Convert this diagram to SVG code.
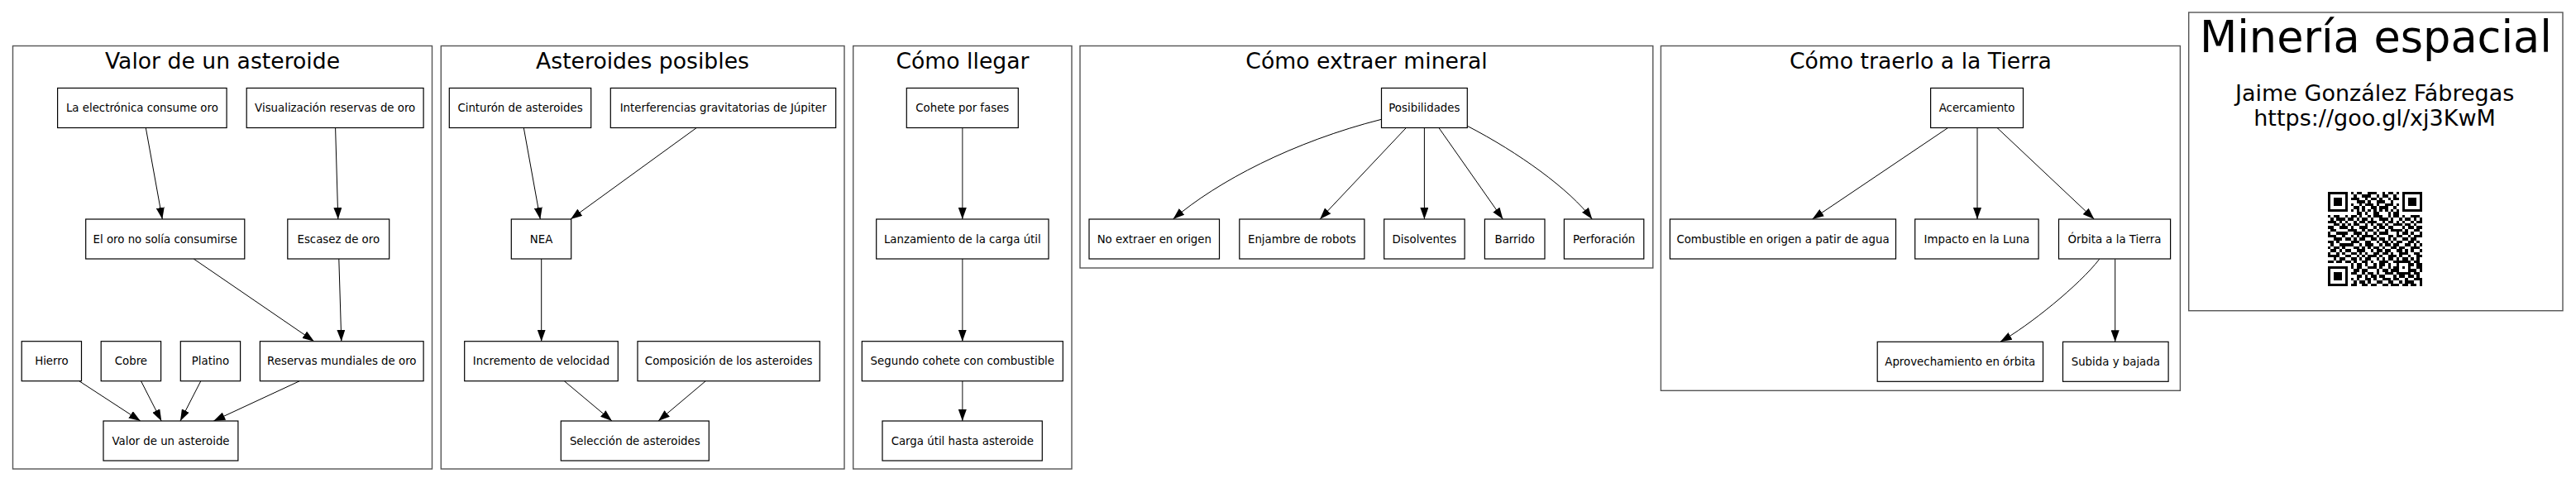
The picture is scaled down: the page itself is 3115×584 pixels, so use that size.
<svg xmlns="http://www.w3.org/2000/svg" width="3115" height="584" viewBox="0 0 3115 584">
<style>
.cl{fill:none;stroke:#555555;stroke-width:1.4}
.nd rect{fill:#ffffff;stroke:#000000;stroke-width:1.2}
.nd text,.lb{font-family:"DejaVu Sans",sans-serif;font-size:13.33px;fill:#000000;text-anchor:middle}
.tt{font-family:"DejaVu Sans",sans-serif;font-size:26.67px;fill:#000000;text-anchor:middle}
.e{fill:none;stroke:#000000;stroke-width:1;marker-end:url(#ah)}
.eg{fill:none;stroke:#555555;stroke-width:1.4;marker-end:url(#ah)}
</style>
<defs>
<marker id="ah" viewBox="0 0 14 10" refX="14" refY="5" markerUnits="userSpaceOnUse" markerWidth="14" markerHeight="10" orient="auto">
<path d="M0,0 L14,5 L0,10 z" fill="#000000"/>
</marker>
</defs>
<rect width="3115" height="584" fill="#ffffff"/>

<g id="clusters">
<g id="c1"><rect class="cl" x="15.5" y="55.5" width="507" height="511.5"/><text class="tt" x="269" y="83">Valor de un asteroide</text></g>
<g id="c2"><rect class="cl" x="533.3" y="55.5" width="487.7" height="511.5"/><text class="tt" x="777" y="83">Asteroides posibles</text></g>
<g id="c3"><rect class="cl" x="1031.7" y="55.5" width="264.3" height="511.5"/><text class="tt" x="1164" y="83">Cómo llegar</text></g>
<g id="c4"><rect class="cl" x="1306" y="55.5" width="692.8" height="268.5"/><text class="tt" x="1652.5" y="83">Cómo extraer mineral</text></g>
<g id="c5"><rect class="cl" x="2008.4" y="55.5" width="628" height="416.8"/><text class="tt" x="2322.4" y="83">Cómo traerlo a la Tierra</text></g>
</g>

<g id="connectors">
<line class="e" x1="176.3" y1="154.5" x2="196.3" y2="265"/>
<line class="e" x1="405.6" y1="154.5" x2="408.8" y2="265"/>
<line class="e" x1="234.2" y1="313" x2="379.8" y2="412.7"/>
<line class="e" x1="409.8" y1="313" x2="412.8" y2="412.7"/>
<line class="e" x1="95.7" y1="460.7" x2="169.8" y2="509"/>
<line class="e" x1="170.5" y1="460.7" x2="195.2" y2="509"/>
<line class="e" x1="242.8" y1="460.7" x2="218" y2="509"/>
<line class="e" x1="362.3" y1="460.7" x2="258.3" y2="509"/>

<line class="e" x1="633.3" y1="154.5" x2="653.3" y2="265"/>
<line class="e" x1="842.3" y1="154.5" x2="690" y2="265"/>
<line class="e" x1="654.7" y1="313" x2="654.7" y2="412.7"/>
<line class="e" x1="682.3" y1="460.7" x2="740" y2="509"/>
<line class="e" x1="853.3" y1="460.7" x2="796" y2="509"/>

<line class="eg" x1="1163.8" y1="154.5" x2="1163.8" y2="265"/>
<line class="eg" x1="1163.8" y1="313" x2="1163.8" y2="412.7"/>
<line class="eg" x1="1163.8" y1="460.7" x2="1163.8" y2="509"/>

<path class="e" d="M1670.5,144.3 C1563.8,171.3 1471.7,219.5 1418.5,265"/>
<line class="e" x1="1700.4" y1="154.5" x2="1596.1" y2="265"/>
<line class="e" x1="1722.4" y1="154.5" x2="1722.4" y2="265"/>
<line class="e" x1="1739.9" y1="154.5" x2="1817.4" y2="265"/>
<path class="e" d="M1774.3,152.3 C1836.5,184.4 1898.3,229 1925.3,265"/>

<line class="e" x1="2355.6" y1="154.5" x2="2191.5" y2="265"/>
<line class="e" x1="2391" y1="154.5" x2="2391" y2="265"/>
<line class="e" x1="2415" y1="154.5" x2="2532.4" y2="265"/>
<path class="e" d="M2538.7,313.3 C2514.3,344.9 2453.6,393.7 2418.8,413.3"/>
<line class="e" x1="2557.7" y1="313.3" x2="2557.7" y2="413.3"/>
</g>

<g id="nodes" class="nd">
<g id="n_electronica"><rect x="69.6" y="106.5" width="204.5" height="48"/><text x="171.9" y="135.2">La electrónica consume oro</text></g>
<g id="n_visualizacion"><rect x="298.2" y="106.5" width="213.9" height="48"/><text x="405.2" y="135.2">Visualización reservas de oro</text></g>
<g id="n_oro"><rect x="103.7" y="265" width="192.1" height="48"/><text x="199.8" y="293.7">El oro no solía consumirse</text></g>
<g id="n_escasez"><rect x="347.8" y="265" width="122.9" height="48"/><text x="409.3" y="293.7">Escasez de oro</text></g>
<g id="n_hierro"><rect x="26.2" y="412.7" width="72.3" height="48"/><text x="62.4" y="441.4">Hierro</text></g>
<g id="n_cobre"><rect x="122.2" y="412.7" width="72.4" height="48"/><text x="158.4" y="441.4">Cobre</text></g>
<g id="n_platino"><rect x="218.3" y="412.7" width="72.3" height="48"/><text x="254.5" y="441.4">Platino</text></g>
<g id="n_reservas"><rect x="314.4" y="412.7" width="197.7" height="48"/><text x="413.3" y="441.4">Reservas mundiales de oro</text></g>
<g id="n_valor"><rect x="125" y="509" width="162.9" height="48"/><text x="206.5" y="537.7">Valor de un asteroide</text></g>

<g id="n_cinturon"><rect x="543.3" y="106.5" width="171.4" height="48"/><text x="629" y="135.2">Cinturón de asteroides</text></g>
<g id="n_interferencias"><rect x="738.3" y="106.5" width="272.4" height="48"/><text x="874.5" y="135.2">Interferencias gravitatorias de Júpiter</text></g>
<g id="n_nea"><rect x="618.3" y="265" width="72.4" height="48"/><text x="654.5" y="293.7">NEA</text></g>
<g id="n_incremento"><rect x="561.7" y="412.7" width="185.6" height="48"/><text x="654.5" y="441.4">Incremento de velocidad</text></g>
<g id="n_composicion"><rect x="771" y="412.7" width="220.3" height="48"/><text x="881.2" y="441.4">Composición de los asteroides</text></g>
<g id="n_seleccion"><rect x="678.3" y="509" width="179" height="48"/><text x="767.8" y="537.7">Selección de asteroides</text></g>

<g id="n_cohete"><rect x="1096.3" y="106.5" width="135" height="48"/><text x="1163.8" y="135.2">Cohete por fases</text></g>
<g id="n_lanzamiento"><rect x="1059.7" y="265" width="208.3" height="48"/><text x="1163.8" y="293.7">Lanzamiento de la carga útil</text></g>
<g id="n_segundo"><rect x="1042.3" y="412.7" width="243" height="48"/><text x="1163.8" y="441.4">Segundo cohete con combustible</text></g>
<g id="n_carga"><rect x="1067" y="509" width="193.3" height="48"/><text x="1163.8" y="537.7">Carga útil hasta asteroide</text></g>

<g id="n_posibilidades"><rect x="1670.5" y="106.5" width="103.8" height="48"/><text x="1722.4" y="135.2">Posibilidades</text></g>
<g id="n_noextraer"><rect x="1317" y="265" width="157.5" height="48"/><text x="1395.8" y="293.7">No extraer en origen</text></g>
<g id="n_enjambre"><rect x="1498.8" y="265" width="151.1" height="48"/><text x="1574.4" y="293.7">Enjambre de robots</text></g>
<g id="n_disolventes"><rect x="1673.7" y="265" width="97.4" height="48"/><text x="1722.4" y="293.7">Disolventes</text></g>
<g id="n_barrido"><rect x="1795.4" y="265" width="72.6" height="48"/><text x="1831.7" y="293.7">Barrido</text></g>
<g id="n_perforacion"><rect x="1891.4" y="265" width="96.4" height="48"/><text x="1939.6" y="293.7">Perforación</text></g>

<g id="n_acercamiento"><rect x="2334.6" y="106.5" width="111.9" height="48"/><text x="2390.6" y="135.2">Acercamiento</text></g>
<g id="n_combustible"><rect x="2019.4" y="265" width="273.1" height="48"/><text x="2156" y="293.7">Combustible en origen a patir de agua</text></g>
<g id="n_impacto"><rect x="2315.7" y="265" width="149.4" height="48"/><text x="2390.4" y="293.7">Impacto en la Luna</text></g>
<g id="n_orbita"><rect x="2489.5" y="265" width="135.1" height="48"/><text x="2557" y="293.7">Órbita a la Tierra</text></g>
<g id="n_aprovechamiento"><rect x="2270.2" y="413.3" width="200.3" height="48"/><text x="2370.3" y="442">Aprovechamiento en órbita</text></g>
<g id="n_subida"><rect x="2494.5" y="413.3" width="127.6" height="48"/><text x="2558.3" y="442">Subida y bajada</text></g>
</g>

<g id="n_titulo">
<rect class="cl" x="2646.7" y="15" width="452.3" height="360.7"/>
<text x="2872.9" y="63.3" style="font-family:'DejaVu Sans',sans-serif;font-size:52.5px;text-anchor:middle">Minería espacial</text>
<text x="2871.7" y="121.7" style="font-family:'DejaVu Sans',sans-serif;font-size:27px;text-anchor:middle">Jaime González Fábregas</text>
<text x="2871.5" y="151.7" style="font-family:'DejaVu Sans',sans-serif;font-size:27px;text-anchor:middle">https://goo.gl/xj3KwM</text>
<g transform="translate(2815,232) scale(3.455)" shape-rendering="crispEdges">
<path fill="#000000" d="M0 0h7v1h-7zM8 0h1v1h-1zM10 0h2v1h-2zM14 0h3v1h-3zM19 0h1v1h-1zM21 0h2v1h-2zM24 0h1v1h-1zM26 0h7v1h-7z
M0 1h1v1h-1zM6 1h1v1h-1zM9 1h1v1h-1zM12 1h3v1h-3zM17 1h1v1h-1zM19 1h2v1h-2zM23 1h1v1h-1zM26 1h1v1h-1zM32 1h1v1h-1z
M0 2h1v1h-1zM2 2h3v1h-3zM6 2h1v1h-1zM8 2h3v1h-3zM13 2h1v1h-1zM15 2h2v1h-2zM18 2h1v1h-1zM21 2h1v1h-1zM23 2h2v1h-2zM26 2h1v1h-1zM28 2h3v1h-3zM32 2h1v1h-1z
M0 3h1v1h-1zM2 3h3v1h-3zM6 3h1v1h-1zM10 3h3v1h-3zM14 3h1v1h-1zM17 3h3v1h-3zM22 3h1v1h-1zM26 3h1v1h-1zM28 3h3v1h-3zM32 3h1v1h-1z
M0 4h1v1h-1zM2 4h3v1h-3zM6 4h1v1h-1zM8 4h1v1h-1zM11 4h1v1h-1zM13 4h3v1h-3zM17 4h1v1h-1zM20 4h3v1h-3zM24 4h1v1h-1zM26 4h1v1h-1zM28 4h3v1h-3zM32 4h1v1h-1z
M0 5h1v1h-1zM6 5h1v1h-1zM9 5h2v1h-2zM12 5h1v1h-1zM15 5h2v1h-2zM18 5h3v1h-3zM23 5h1v1h-1zM26 5h1v1h-1zM32 5h1v1h-1z
M0 6h7v1h-7zM8 6h1v1h-1zM10 6h1v1h-1zM12 6h1v1h-1zM14 6h1v1h-1zM16 6h1v1h-1zM18 6h1v1h-1zM20 6h1v1h-1zM22 6h1v1h-1zM24 6h1v1h-1zM26 6h7v1h-7z
M10 7h2v1h-2zM13 7h1v1h-1zM16 7h2v1h-2zM21 7h1v1h-1zM23 7h2v1h-2z
M0 8h1v1h-1zM2 8h2v1h-2zM6 8h1v1h-1zM8 8h2v1h-2zM11 8h1v1h-1zM14 8h1v1h-1zM16 8h3v1h-3zM21 8h1v1h-1zM23 8h2v1h-2zM26 8h1v1h-1zM29 8h3v1h-3z
M1 9h1v1h-1zM3 9h3v1h-3zM7 9h2v1h-2zM10 9h1v1h-1zM12 9h2v1h-2zM15 9h1v1h-1zM18 9h3v1h-3zM22 9h1v1h-1zM25 9h1v1h-1zM27 9h2v1h-2zM30 9h1v1h-1zM32 9h1v1h-1z
M0 10h3v1h-3zM4 10h1v1h-1zM6 10h1v1h-1zM9 10h1v1h-1zM11 10h2v1h-2zM14 10h3v1h-3zM19 10h1v1h-1zM21 10h2v1h-2zM24 10h1v1h-1zM26 10h1v1h-1zM29 10h1v1h-1zM31 10h2v1h-2z
M2 11h2v1h-2zM5 11h1v1h-1zM7 11h1v1h-1zM9 11h2v1h-2zM13 11h1v1h-1zM15 11h1v1h-1zM17 11h2v1h-2zM20 11h1v1h-1zM23 11h3v1h-3zM27 11h2v1h-2zM30 11h1v1h-1z
M0 12h2v1h-2zM4 12h3v1h-3zM8 12h1v1h-1zM11 12h3v1h-3zM16 12h1v1h-1zM18 12h2v1h-2zM21 12h2v1h-2zM26 12h1v1h-1zM28 12h2v1h-2zM31 12h2v1h-2z
M1 13h2v1h-2zM7 13h3v1h-3zM12 13h1v1h-1zM14 13h2v1h-2zM17 13h1v1h-1zM20 13h1v1h-1zM22 13h4v1h-4zM27 13h1v1h-1zM30 13h2v1h-2z
M0 14h1v1h-1zM3 14h4v1h-4zM9 14h3v1h-3zM13 14h1v1h-1zM16 14h1v1h-1zM18 14h3v1h-3zM24 14h1v1h-1zM26 14h2v1h-2zM29 14h1v1h-1zM32 14h1v1h-1z
M0 15h3v1h-3zM5 15h1v1h-1zM8 15h1v1h-1zM10 15h1v1h-1zM12 15h4v1h-4zM17 15h1v1h-1zM21 15h2v1h-2zM24 15h2v1h-2zM28 15h1v1h-1zM30 15h3v1h-3z
M2 16h3v1h-3zM6 16h2v1h-2zM9 16h1v1h-1zM11 16h2v1h-2zM15 16h2v1h-2zM18 16h2v1h-2zM21 16h1v1h-1zM23 16h1v1h-1zM26 16h2v1h-2zM29 16h2v1h-2z
M0 17h2v1h-2zM3 17h1v1h-1zM8 17h3v1h-3zM13 17h2v1h-2zM17 17h1v1h-1zM19 17h2v1h-2zM22 17h1v1h-1zM24 17h2v1h-2zM28 17h2v1h-2zM31 17h1v1h-1z
M1 18h1v1h-1zM4 18h5v1h-5zM11 18h1v1h-1zM13 18h3v1h-3zM18 18h1v1h-1zM20 18h2v1h-2zM23 18h2v1h-2zM27 18h2v1h-2zM30 18h1v1h-1zM32 18h1v1h-1z
M0 19h1v1h-1zM2 19h2v1h-2zM5 19h1v1h-1zM9 19h2v1h-2zM12 19h1v1h-1zM14 19h1v1h-1zM16 19h2v1h-2zM19 19h1v1h-1zM22 19h2v1h-2zM25 19h2v1h-2zM29 19h3v1h-3z
M1 20h2v1h-2zM4 20h1v1h-1zM6 20h2v1h-2zM10 20h3v1h-3zM15 20h1v1h-1zM17 20h2v1h-2zM20 20h2v1h-2zM24 20h2v1h-2zM27 20h1v1h-1zM29 20h1v1h-1zM32 20h1v1h-1z
M0 21h1v1h-1zM3 21h1v1h-1zM5 21h1v1h-1zM8 21h2v1h-2zM11 21h1v1h-1zM13 21h1v1h-1zM16 21h2v1h-2zM19 21h2v1h-2zM22 21h1v1h-1zM25 21h3v1h-3zM30 21h2v1h-2z
M0 22h4v1h-4zM6 22h2v1h-2zM10 22h1v1h-1zM12 22h1v1h-1zM14 22h3v1h-3zM18 22h1v1h-1zM21 22h3v1h-3zM25 22h1v1h-1zM28 22h1v1h-1zM31 22h2v1h-2z
M2 23h1v1h-1zM4 23h2v1h-2zM8 23h2v1h-2zM11 23h1v1h-1zM13 23h2v1h-2zM17 23h1v1h-1zM19 23h1v1h-1zM21 23h2v1h-2zM24 23h1v1h-1zM26 23h2v1h-2zM29 23h1v1h-1zM31 23h1v1h-1z
M0 24h2v1h-2zM3 24h2v1h-2zM6 24h2v1h-2zM9 24h1v1h-1zM12 24h2v1h-2zM15 24h1v1h-1zM18 24h3v1h-3zM23 24h6v1h-6zM30 24h2v1h-2z
M8 25h1v1h-1zM10 25h2v1h-2zM13 25h1v1h-1zM16 25h1v1h-1zM18 25h2v1h-2zM21 25h1v1h-1zM24 25h1v1h-1zM28 25h2v1h-2zM31 25h2v1h-2z
M0 26h7v1h-7zM8 26h1v1h-1zM10 26h2v1h-2zM14 26h3v1h-3zM18 26h1v1h-1zM21 26h1v1h-1zM23 26h2v1h-2zM26 26h1v1h-1zM28 26h1v1h-1zM31 26h2v1h-2z
M0 27h1v1h-1zM6 27h1v1h-1zM9 27h2v1h-2zM12 27h2v1h-2zM17 27h1v1h-1zM19 27h2v1h-2zM22 27h3v1h-3zM28 27h3v1h-3zM32 27h1v1h-1z
M0 28h1v1h-1zM2 28h3v1h-3zM6 28h1v1h-1zM8 28h2v1h-2zM12 28h1v1h-1zM14 28h2v1h-2zM17 28h1v1h-1zM20 28h3v1h-3zM24 28h5v1h-5zM30 28h2v1h-2z
M0 29h1v1h-1zM2 29h3v1h-3zM6 29h1v1h-1zM10 29h2v1h-2zM13 29h1v1h-1zM15 29h2v1h-2zM18 29h2v1h-2zM23 29h1v1h-1zM25 29h2v1h-2zM28 29h2v1h-2zM31 29h1v1h-1z
M0 30h1v1h-1zM2 30h3v1h-3zM6 30h1v1h-1zM8 30h1v1h-1zM10 30h1v1h-1zM13 30h2v1h-2zM16 30h1v1h-1zM19 30h3v1h-3zM23 30h2v1h-2zM27 30h1v1h-1zM30 30h3v1h-3z
M0 31h1v1h-1zM6 31h1v1h-1zM9 31h1v1h-1zM11 31h2v1h-2zM14 31h1v1h-1zM17 31h2v1h-2zM21 31h2v1h-2zM25 31h1v1h-1zM27 31h3v1h-3zM32 31h1v1h-1z
M0 32h7v1h-7zM8 32h2v1h-2zM12 32h2v1h-2zM15 32h2v1h-2zM19 32h2v1h-2zM22 32h3v1h-3zM26 32h2v1h-2zM29 32h2v1h-2zM32 32h1v1h-1z"/>
</g>
</g>
</svg>
